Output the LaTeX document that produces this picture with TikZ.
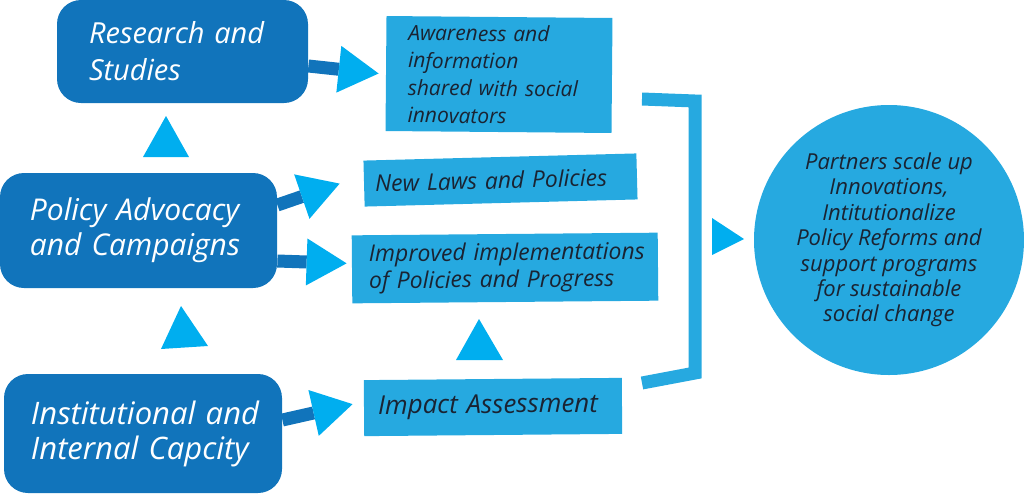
\documentclass[tikz,border=0pt]{standalone}
\usepackage{fontspec}
\setmainfont{Open Sans}
\usetikzlibrary{positioning}
\usetikzlibrary{calc}
\usetikzlibrary{arrows.meta}
\definecolor{boxdark}{HTML}{1174BB}
\definecolor{boxlight}{HTML}{26A9E0}
\definecolor{headcyan}{HTML}{00AEEF}
\definecolor{textdark}{HTML}{1A2332}
\newcommand{\boxfont}[2]{\itshape\fontsize{#1}{#2}\selectfont\hyphenpenalty=10000}
\tikzset{ %Styles des boites et fleches
    darkbox/.style={fill=boxdark, rounded corners=12pt, text=white, align=left, inner ysep=0pt},
    lightbox/.style={fill=boxlight, text=textdark, align=left, inner ysep=0pt},
    stem/.style={draw=boxdark, line width=6.5pt,
        -{Triangle[length=20pt,width=23.5pt,line width=0pt,color=headcyan,fill=headcyan]}},
    head/.style={fill=headcyan},
    bracket/.style={draw=boxlight, line width=6.5pt}
}
\begin{document}
\begin{tikzpicture}[x=0.5pt,y=-0.5pt]
            \useasboundingbox (0,0) rectangle (1024,494);
            \node[darkbox, minimum height=51.5pt, text width=93.5pt, inner xsep=16pt, font=\boxfont{14.5}{18.5}] (research) at (182.5,51.5) {Research and\\Studies};
            \node[darkbox, minimum height=57.5pt, text width=108.5pt, inner xsep=15pt, font=\boxfont{15}{17.5}] (policy) at (138.5,230.5) {Policy Advocacy\\and Campaigns};
            \node[darkbox, minimum height=59.5pt, text width=112pt, inner xsep=13.5pt, font=\boxfont{15.5}{17.5}] (capacity) at (143,433.5) {Institutional~and\\Internal Capcity};
            \node[lightbox, rotate=-0.5, minimum height=57.5pt, text width=91pt, inner xsep=11pt, font=\boxfont{10.5}{13.7}] (aware) at (499,74.5) {Awareness and\\information\\shared with social\\innovators};
            \node[lightbox, rotate=1.5, minimum height=23pt, text width=125.5pt, inner xsep=5.5pt, font=\boxfont{11.5}{13.5}] (laws) at (500.5,180) {New Laws and Policies};
            \node[lightbox, rotate=0.5, minimum height=34pt, text width=136pt, inner xsep=8.5pt, font=\boxfont{11.5}{13.5}] (improved) at (505,268) {Improved~implementations\\of Policies and Progress};
            \node[lightbox, rotate=0.5, minimum height=28pt, text width=115pt, inner xsep=7pt, font=\boxfont{13}{15}] (impact) at (493,407) {Impact Assessment};
            \node[circle, fill=boxlight, minimum size=135pt, inner sep=0pt, text=textdark, align=center, font=\boxfont{11}{12.7}] (goal) at (889,240) {Partners scale up\\Innovations,\\Intitutionalize\\Policy Reforms and\\support programs\\for sustainable\\social change};
            \draw[stem] ([yshift=-7.25pt]research.east) -- ([xshift=-3.5pt]aware.west);
            \draw[stem] ([yshift=12.75pt]policy.east) -- ([xshift=-12pt]laws.west);
            \draw[stem] ([yshift=-15.25pt]policy.east) -- ([xshift=-2.5pt,yshift=3pt]improved.west);
            \draw[stem] ([yshift=6.75pt]capacity.east) -- ([xshift=-5.5pt,yshift=2pt]impact.west);
            \fill[head] (143,157) -- (166,116) -- (189,157) -- cycle;
            \fill[head] (161,349) -- (181,306) -- (208,346) -- cycle;
            \fill[head] (456,360) -- (479,319) -- (503,360) -- cycle;
            \draw[bracket] (642,99) -- (695,101) -- (695,373) -- (642,383);
            \fill[head] (712,218) -- (744,239) -- (712,255) -- cycle;
        \end{tikzpicture}
\end{document}
